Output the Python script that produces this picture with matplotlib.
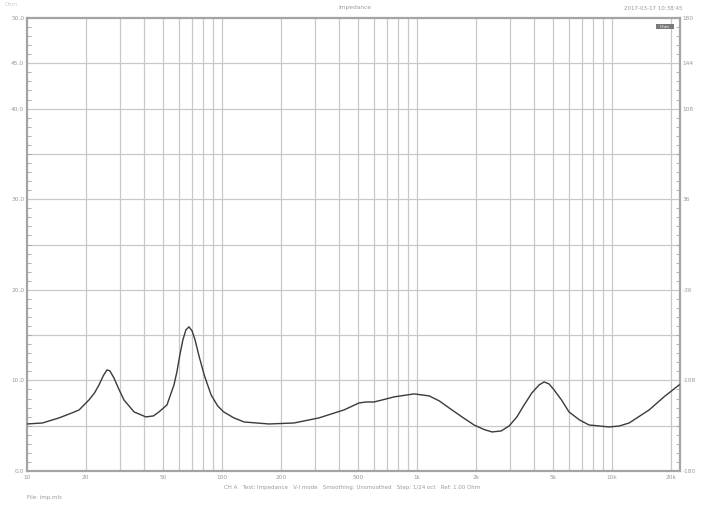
import matplotlib
matplotlib.use("Agg")
import matplotlib.pyplot as plt
from matplotlib.ticker import FixedLocator, NullFormatter, MultipleLocator
from matplotlib.patches import Rectangle

# ---- data ----
freq_hz = [10, 12, 14.6, 17, 18.5, 20.8, 22.2, 23.4, 24.6, 25.7, 26.6, 27.9, 29.7,
           31.4, 35.4, 40.7, 44.5, 47.5, 52.2, 56.7, 58.7, 60.8, 63.0, 65.3, 67.7,
           70.2, 72.7, 76.4, 81.3, 87.9, 95, 102, 115, 130, 174, 234, 314, 422,
           504, 550, 602, 680, 762, 966, 1153, 1300, 1460, 1700, 1960, 2200, 2425,
           2700, 2966, 3250, 3540, 3880, 4226, 4480, 4750, 5044, 5500, 6015, 6800,
           7620, 9660, 10900, 12230, 15490, 18500, 22080]
impedance_ohm = [5.19, 5.30, 5.86, 6.41, 6.74, 7.85, 8.62, 9.50, 10.50, 11.16, 11.05,
                 10.28, 8.95, 7.85, 6.52, 5.97, 6.08, 6.52, 7.29, 9.50, 10.94, 12.82,
                 14.48, 15.58, 15.91, 15.47, 14.48, 12.60, 10.50, 8.40, 7.18, 6.52,
                 5.86, 5.41, 5.19, 5.30, 5.86, 6.74, 7.51, 7.62, 7.62, 7.90, 8.18,
                 8.51, 8.29, 7.74, 6.96, 5.97, 5.08, 4.59, 4.31, 4.42, 4.97, 5.97,
                 7.29, 8.62, 9.50, 9.83, 9.61, 8.95, 7.85, 6.52, 5.64, 5.08, 4.86,
                 4.97, 5.30, 6.74, 8.20, 9.50]

x_tick_values = [10, 20, 50, 100, 200, 500, 1000, 2000, 5000, 10000, 20000]
x_tick_labels = ["10", "20", "50", "100", "200", "500", "1k", "2k", "5k", "10k", "20k"]
left_tick_values = [50, 45, 40, 30, 20, 10, 0]
left_tick_labels = ["50.0", "45.0", "40.0", "30.0", "20.0", "10.0", "0.0"]
right_tick_labels = ["180", "144", "108", "36", "-36", "-108", "-180"]

title_text = "Impedance"
date_text = "2017-03-17 10:38:45"
caption_text = ("CH A   Test: Impedance   V-I mode   Smoothing: Unsmoothed   "
                "Step: 1/24 oct   Ref: 1.00 Ohm")
footer_text = "File: imp.mls"

# ---- figure ----
W, H = 705, 508
fig = plt.figure(figsize=(W / 100, H / 100), dpi=100)
fig.patch.set_facecolor("white")
L, R, T, B = 27, 680, 18, 471
ax = fig.add_axes([L / W, 1 - B / H, (R - L) / W, (B - T) / H])

grid_c = "#c8c8c8"
frame_c = "#a4a4a4"
text_c = "#9a9a9a"

ax.set_xscale("log")
ax.set_xlim(10, 22300)
ax.set_ylim(0, 50)

# vertical grid lines at every 1..9 multiple
vgrid = []
for dec in [10, 100, 1000, 10000]:
    for m in range(1, 10):
        v = dec * m
        if v <= 22300:
            vgrid.append(v)
for v in vgrid[1:]:
    ax.axvline(v, color=grid_c, lw=0.9, zorder=1)
for v in range(5, 50, 5):
    ax.axhline(v, color=grid_c, lw=0.9, zorder=1)

ax.plot(freq_hz, impedance_ohm, color="#3a3a3a", lw=1.0, zorder=3)

for s in ax.spines.values():
    s.set_color(frame_c)
    s.set_linewidth(1.6)

ax.xaxis.set_major_locator(FixedLocator(x_tick_values))
ax.set_xticklabels(x_tick_labels)
ax.xaxis.set_minor_locator(FixedLocator([]))
ax.xaxis.set_minor_formatter(NullFormatter())
ax.tick_params(axis="x", which="major", length=0, labelsize=4.2,
               labelcolor=text_c, pad=3)

ax.yaxis.set_major_locator(FixedLocator(left_tick_values))
ax.set_yticklabels(left_tick_labels)
ax.yaxis.set_minor_locator(MultipleLocator(1))
ax.tick_params(axis="y", which="major", length=0, labelsize=4.2,
               labelcolor=text_c, pad=2)
ax.tick_params(axis="y", which="minor", direction="in", length=3,
               color=frame_c, width=0.6)

ax2 = ax.twinx()
ax2.set_ylim(0, 50)
ax2.yaxis.set_major_locator(FixedLocator(left_tick_values))
ax2.set_yticklabels(right_tick_labels)
ax2.yaxis.set_minor_locator(MultipleLocator(1))
ax2.tick_params(axis="y", which="major", length=0, labelsize=4.2,
                labelcolor=text_c, pad=2)
ax2.tick_params(axis="y", which="minor", direction="in", length=3,
                color=frame_c, width=0.6)
for s in ax2.spines.values():
    s.set_visible(False)

# small legend box at top right inside plot
ax.add_patch(Rectangle((0.963, 0.987), 0.028, -0.012, transform=ax.transAxes,
                       facecolor="#7a7a7a", edgecolor="none", zorder=4))
ax.text(0.977, 0.981, "Ohm", transform=ax.transAxes, fontsize=3, color="white",
        ha="center", va="center", zorder=5)

fig.text(355 / W, 1 - 8 / H, title_text, fontsize=4.2, color=text_c,
         ha="center", va="center")
fig.text(653 / W, 1 - 8 / H, date_text, fontsize=4.0, color=text_c,
         ha="center", va="center")
fig.text(5 / W, 1 - 5 / H, "Ohm", fontsize=4.0, color="#cfcfcf",
         ha="left", va="center")
fig.text(352 / W, 1 - 488 / H, caption_text, fontsize=4.0, color=text_c,
         ha="center", va="center")
fig.text(27 / W, 1 - 497 / H, footer_text, fontsize=4.0, color=text_c,
         ha="left", va="center")

fig.savefig("out.png", dpi=100, facecolor="white")
